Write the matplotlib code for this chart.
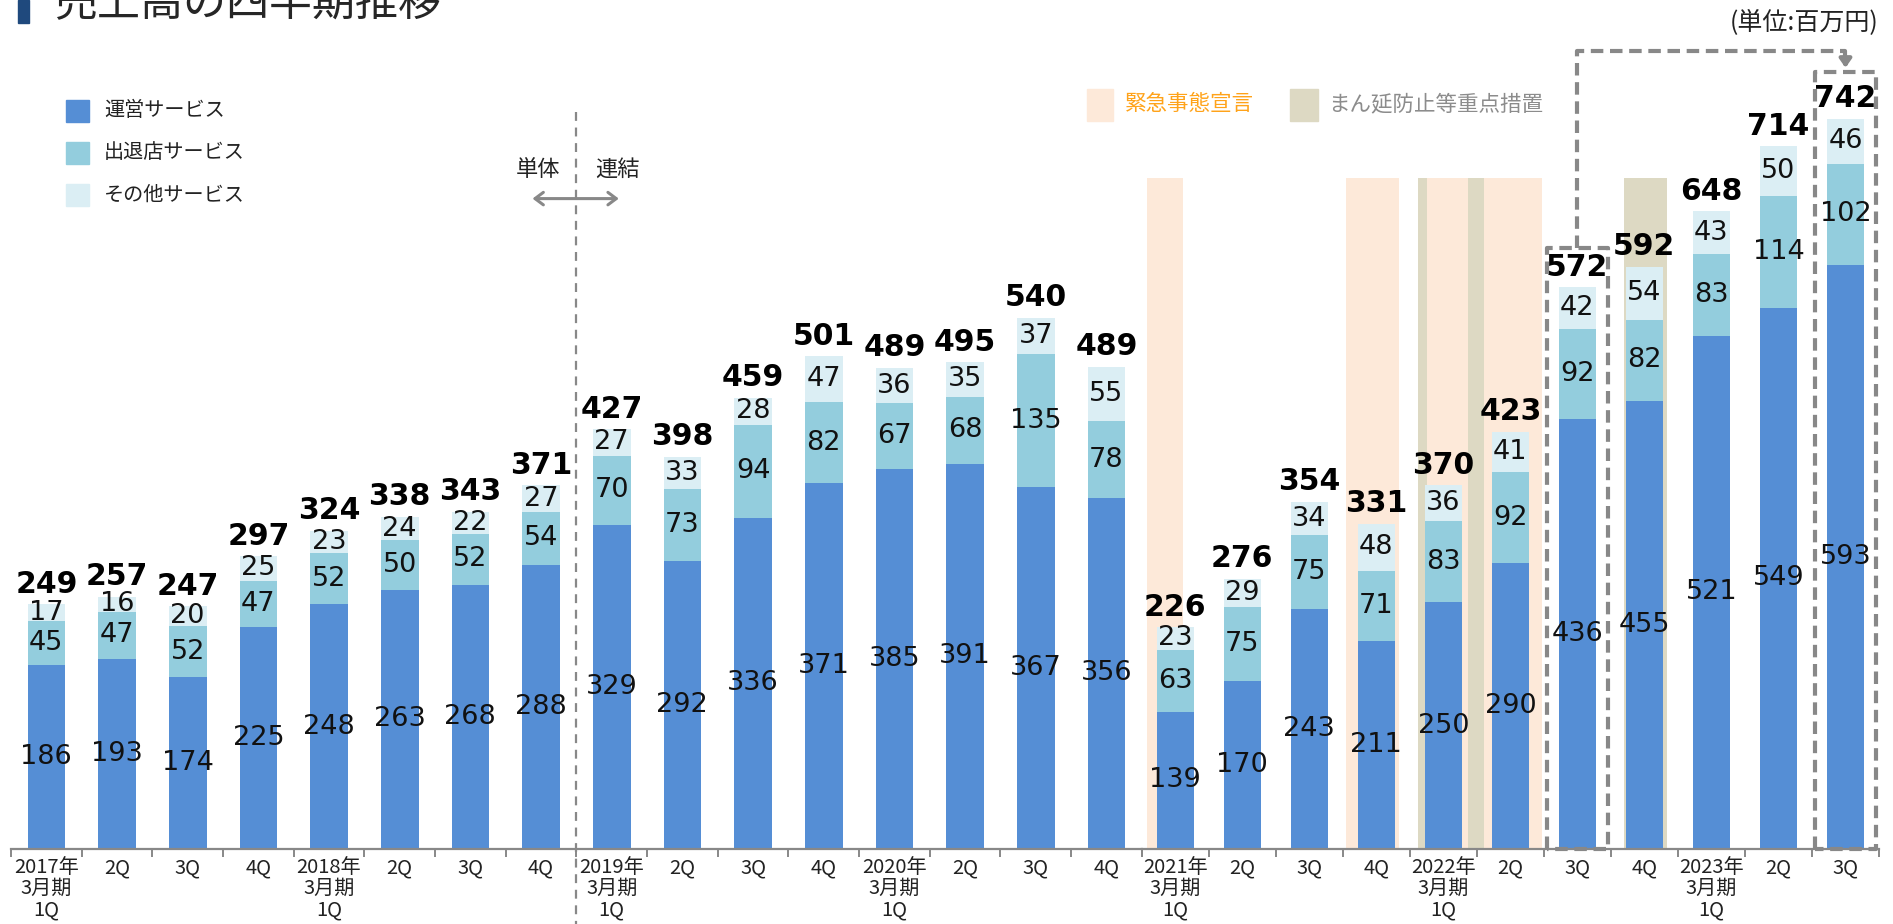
import numpy as np
import matplotlib
matplotlib.use("Agg")
import matplotlib.pyplot as plt
from matplotlib.patches import Rectangle

plt.rcParams['font.family'] = ['Noto Sans CJK JP', 'DejaVu Sans']

# ---- data ----
quarters = ['2017年\n3月期\n1Q', '2Q', '3Q', '4Q',
            '2018年\n3月期\n1Q', '2Q', '3Q', '4Q',
            '2019年\n3月期\n1Q', '2Q', '3Q', '4Q',
            '2020年\n3月期\n1Q', '2Q', '3Q', '4Q',
            '2021年\n3月期\n1Q', '2Q', '3Q', '4Q',
            '2022年\n3月期\n1Q', '2Q', '3Q', '4Q',
            '2023年\n3月期\n1Q', '2Q', '3Q']
ops_service = [186, 193, 174, 225, 248, 263, 268, 288, 329, 292, 336, 371, 385, 391, 367, 356,
               139, 170, 243, 211, 250, 290, 436, 455, 521, 549, 593]
store_service = [45, 47, 52, 47, 52, 50, 52, 54, 70, 73, 94, 82, 67, 68, 135, 78,
                 63, 75, 75, 71, 83, 92, 92, 82, 83, 114, 102]
other_service = [17, 16, 20, 25, 23, 24, 22, 27, 27, 33, 28, 47, 36, 35, 37, 55,
                 23, 29, 34, 48, 36, 41, 42, 54, 43, 50, 46]
totals = [249, 257, 247, 297, 324, 338, 343, 371, 427, 398, 459, 501, 489, 495, 540, 489,
          226, 276, 354, 331, 370, 423, 572, 592, 648, 714, 742]
series_names = ['運営サービス', '出退店サービス', 'その他サービス']

# periods (in quarter index units) of emergency declarations / priority measures
emergency_spans = [(15.58, 16.12), (18.55, 19.34), (19.76, 20.37), (20.60, 21.47)]
priority_spans = [(19.62, 19.76), (20.37, 20.60), (22.70, 23.34)]

C_OPS = '#558ED5'
C_STORE = '#93CDDD'
C_OTHER = '#DBEEF4'
C_EMERG = '#FDE9D9'
C_PRIOR = '#DDD9C3'
GREY = '#888888'

W, H = 1893, 924
fig = plt.figure(figsize=(W / 100, H / 100), dpi=100)

base_px = 848.7       # y pixel of the category axis
px_per_unit = 0.985
ytop = base_px / px_per_unit
split = 16            # the quarters after this are drawn a bit narrower in the original


def fx(px):
    return px / W


def fy(py):
    return 1 - py / H


ax1 = fig.add_axes([fx(11), fy(base_px), fx(1141.7 - 11), base_px / H])
ax2 = fig.add_axes([fx(1141.7), fy(base_px), fx(1879 - 1141.7), base_px / H])


def draw_bars(ax, lo, hi, width):
    ops = np.array(ops_service[lo:hi])
    store = np.array(store_service[lo:hi])
    other = np.array(other_service[lo:hi])
    x = np.arange(hi - lo)
    b1 = ax.bar(x, ops, width, color=C_OPS, zorder=2)
    b2 = ax.bar(x, store, width, bottom=ops, color=C_STORE, zorder=2)
    b3 = ax.bar(x, other, width, bottom=ops + store, color=C_OTHER, zorder=2)
    for b in (b1, b2, b3):
        ax.bar_label(b, label_type='center', fontsize=19.5, family='DejaVu Sans',
                     color='#111111', zorder=4)
    ax.bar_label(b3, labels=[str(t) for t in totals[lo:hi]], padding=4,
                 fontsize=21.5, fontweight='bold', family='DejaVu Sans', zorder=4)

    ax.set_xlim(-0.5, hi - lo - 0.5)
    ax.set_ylim(0, ytop)
    ax.patch.set_visible(False)
    for s in ('top', 'left', 'right'):
        ax.spines[s].set_visible(False)
    ax.spines['bottom'].set_color(GREY)
    ax.spines['bottom'].set_linewidth(1.6)
    ax.set_yticks([])
    ax.set_xticks(np.arange(hi - lo + 1) - 0.5)
    ax.set_xticklabels([])
    ax.tick_params(axis='x', which='major', length=6, width=1.4, color=GREY)
    ax.set_xticks(x, minor=True)
    ax.set_xticklabels(quarters[lo:hi], minor=True, fontsize=14.5, linespacing=1.0,
                       color='#222222')
    ax.tick_params(axis='x', which='minor', length=0, pad=6)


draw_bars(ax1, 0, split, 0.533)
draw_bars(ax2, split, len(quarters), 0.557)

# shaded periods
for x0, x1 in emergency_spans:
    ax2.axvspan(x0 - split, x1 - split, ymin=0, ymax=681 / ytop, color=C_EMERG, lw=0, zorder=0)
for x0, x1 in priority_spans:
    ax2.axvspan(x0 - split, x1 - split, ymin=0, ymax=681 / ytop, color=C_PRIOR, lw=0, zorder=0)

# standalone / consolidated divider
ax1.plot([7.5, 7.5], [748, -80], color=GREY, lw=1.6, ls=(0, (4, 3)), clip_on=False, zorder=3)
ax1.annotate('', xy=(6.84, 660), xytext=(8.14, 660),
             arrowprops=dict(arrowstyle='<->,head_length=0.6,head_width=0.45', color=GREY, lw=2.2))
ax1.text(6.96, 690, '単体', ha='center', va='center', fontsize=16, color='#222222')
ax1.text(8.08, 690, '連結', ha='center', va='center', fontsize=16, color='#222222')

# dashed comparison boxes (3Q 2022 vs 3Q 2023)
dash = (0, (3, 1.6))
for i, top in [(22 - split, 610), (26 - split, 789)]:
    ax2.plot([i - 0.46, i - 0.46, i + 0.46, i + 0.46, i - 0.46],
             [0, top, top, 0, 0], color=GREY, lw=3, ls=dash, clip_on=False, zorder=5)
ax2.plot([6, 6, 10, 10], [610, 810, 810, 800], color=GREY, lw=3, ls=dash, clip_on=False, zorder=5)
ax2.annotate('', xy=(10, 790), xytext=(10, 803),
             arrowprops=dict(arrowstyle='-|>,head_length=0.5,head_width=0.35', color=GREY, lw=3),
             annotation_clip=False)

# title (cut off at the top in the reference)
fig.patches.append(Rectangle((fx(18), fy(23)), fx(11), 23 / H, transform=fig.transFigure,
                             color='#1F497D'))
fig.text(fx(54), fy(16), '売上高の四半期推移', fontsize=31, color='#262626', va='baseline')
fig.text(fx(1879), fy(22), '(単位:百万円)', fontsize=18, ha='right', va='center', color='#222222')

# series legend
for j, (name, c) in enumerate(zip(series_names, [C_OPS, C_STORE, C_OTHER])):
    yc = 111 + j * 42
    fig.patches.append(Rectangle((fx(66), fy(yc + 11)), fx(23), 22 / H,
                                 transform=fig.transFigure, color=c))
    fig.text(fx(104), fy(yc), name, fontsize=14.5, va='center', color='#222222')

# shading legend
fig.patches.append(Rectangle((fx(1087), fy(121)), fx(26), 32 / H, transform=fig.transFigure,
                             color=C_EMERG))
fig.text(fx(1125), fy(104), '緊急事態宣言', fontsize=15.5, va='center', color='#FFA31A')
fig.patches.append(Rectangle((fx(1290), fy(121)), fx(28), 32 / H, transform=fig.transFigure,
                             color=C_PRIOR))
fig.text(fx(1328), fy(104), 'まん延防止等重点措置', fontsize=15.5, va='center', color='#8C8C8C')

fig.savefig('out.png', dpi=100)
